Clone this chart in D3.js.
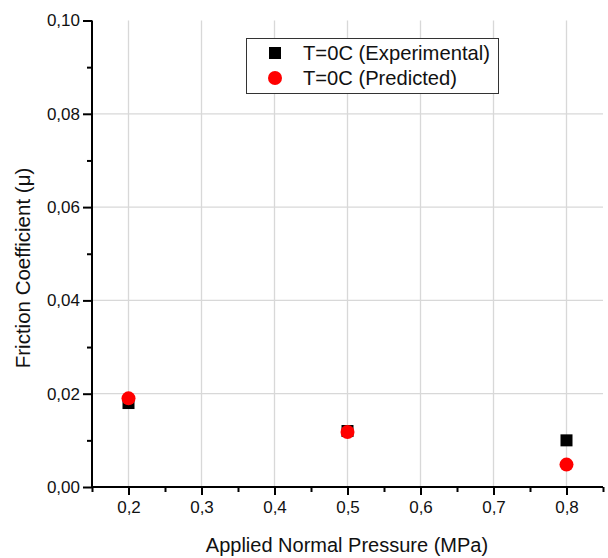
<!DOCTYPE html>
<html>
<head>
    <meta charset="utf-8">
    <script src="https://cdn.jsdelivr.net/npm/d3@7"></script>
    <style>
        body { margin: 0; background: #fff; }
        text { font-family: "Liberation Sans", Arial, sans-serif; }
    </style>
</head>
<body>
<script>
// data
var pressure = [0.2, 0.5, 0.8];
var experimental = [0.018, 0.012, 0.010];
var predicted = [0.019, 0.0118, 0.0048];
var xTicks = [0.2, 0.3, 0.4, 0.5, 0.6, 0.7, 0.8];
var yTicks = [0, 0.02, 0.04, 0.06, 0.08, 0.10];
var seriesNames = ['T=0C (Experimental)', 'T=0C (Predicted)'];

var W = 608, H = 558;
var svg = d3.select('body').append('svg')
    .attr('width', W).attr('height', H);

var x = d3.scaleLinear().domain([0.15, 0.85]).range([92, 603]);
var y = d3.scaleLinear().domain([0, 0.10]).range([487, 20.5]);
var fmt = function(f) { return function(d) { return d3.format(f)(d).replace('.', ','); }; };

// grid
svg.append('g').selectAll('line').data(xTicks).enter().append('line')
    .attr('x1', function(d) { return x(d); }).attr('x2', function(d) { return x(d); })
    .attr('y1', y(0)).attr('y2', y(0.10))
    .attr('stroke', '#d8d8d8').attr('stroke-width', 1.3);
svg.append('g').selectAll('line').data(yTicks.slice(1, -1)).enter().append('line')
    .attr('x1', x(0.15)).attr('x2', x(0.85))
    .attr('y1', function(d) { return y(d); }).attr('y2', function(d) { return y(d); })
    .attr('stroke', '#d8d8d8').attr('stroke-width', 1.3);

// axes
var xMinor = d3.range(0.15, 0.851, 0.1).map(function(d) { return +d.toFixed(2); });
var yMinor = [0.01, 0.03, 0.05, 0.07, 0.09];

var gx = svg.append('g').attr('transform', 'translate(0,' + y(0) + ')')
    .call(d3.axisBottom(x).tickValues(xTicks).tickFormat(fmt('.1f')).tickSize(8).tickPadding(6));
svg.append('g').attr('transform', 'translate(0,' + y(0) + ')')
    .call(d3.axisBottom(x).tickValues(xMinor).tickFormat('').tickSize(5))
    .select('.domain').remove();
var gy = svg.append('g').attr('transform', 'translate(' + x(0.15) + ',0)')
    .call(d3.axisLeft(y).tickValues(yTicks).tickFormat(fmt('.2f')).tickSize(9).tickPadding(3));
svg.append('g').attr('transform', 'translate(' + x(0.15) + ',0)')
    .call(d3.axisLeft(y).tickValues(yMinor).tickFormat('').tickSize(5))
    .select('.domain').remove();

svg.selectAll('.domain').attr('stroke', '#000').attr('stroke-width', 2);
svg.selectAll('.tick line').attr('stroke', '#000').attr('stroke-width', 2);
svg.selectAll('.tick text').attr('font-size', 17).attr('fill', '#111')
    .style('font-family', '"Liberation Sans", Arial, sans-serif');
// keep the axis line straight at both ends
gx.select('.domain').attr('d', 'M' + x(0.15) + ',0H' + x(0.85));
gy.select('.domain').attr('d', 'M0,' + y(0) + 'V' + y(0.10));

// points
svg.append('g').selectAll('rect').data(pressure).enter().append('rect')
    .attr('x', function(d) { return x(d) - 6; })
    .attr('y', function(d, i) { return y(experimental[i]) - 6; })
    .attr('width', 12).attr('height', 12).attr('fill', '#000');
svg.append('g').selectAll('circle').data(pressure).enter().append('circle')
    .attr('cx', function(d) { return x(d); })
    .attr('cy', function(d, i) { return y(predicted[i]); })
    .attr('r', 7).attr('fill', '#ff0000');

// axis titles
svg.append('text').attr('x', 347).attr('y', 552).attr('text-anchor', 'middle')
    .attr('font-size', 20).attr('fill', '#111').text('Applied Normal Pressure (MPa)');
svg.append('text').attr('transform', 'translate(30,268) rotate(-90)').attr('text-anchor', 'middle')
    .attr('font-size', 20.5).attr('fill', '#111').text('Friction Coefficient (\u03bc)');

// legend
var lg = svg.append('g');
lg.append('rect').attr('x', 246.5).attr('y', 38.5).attr('width', 252).attr('height', 55)
    .attr('fill', '#fff').attr('stroke', '#333').attr('stroke-width', 1);
lg.append('rect').attr('x', 269).attr('y', 47).attr('width', 12).attr('height', 12).attr('fill', '#000');
lg.append('circle').attr('cx', 275).attr('cy', 78).attr('r', 7).attr('fill', '#ff0000');
lg.selectAll('text.lbl').data(seriesNames).enter().append('text')
    .attr('class', 'lbl')
    .attr('x', 303).attr('y', function(d, i) { return 60 + i * 25; })
    .attr('font-size', 21).attr('fill', '#111')
    .attr('textLength', function(d, i) { return i === 0 ? 187 : 154; })
    .attr('lengthAdjust', 'spacingAndGlyphs')
    .text(function(d) { return d; });
</script>
</body>
</html>
